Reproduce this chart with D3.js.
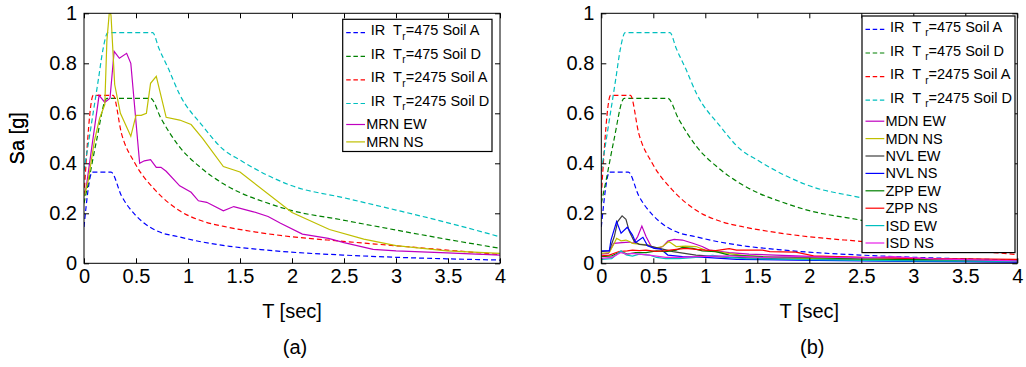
<!DOCTYPE html>
<html>
<head>
<meta charset="utf-8">
<script src="https://d3js.org/d3.v7.min.js"></script>
<style>
  body { margin: 0; background: #fff; }
  svg text { font-family: "Liberation Sans", Arial, Helvetica, sans-serif; fill: #000; }
  .frame { fill: none; stroke: #000; stroke-width: 1px; }
  .curve { fill: none; stroke-width: 1.2px; }
  .code { stroke-dasharray: 5,3; }
  .legend-box { fill: #fff; stroke: #000; stroke-width: 1.2px; }
</style>
</head>
<body>
<svg id="chart" width="1026" height="367"></svg>
<script>
// axis ticks
const periodTicks = [0, 0.5, 1, 1.5, 2, 2.5, 3, 3.5, 4];
const saTicks = [0, 0.2, 0.4, 0.6, 0.8, 1];

// IR design spectra [T, Sa]
const irA475 = [[0,0.145],[0.08,0.365],[0.26,0.365],[0.36,0.27],[0.49,0.195],[0.58,0.16],[0.71,0.128],[0.92,0.105],[1.14,0.085],[1.4,0.068],[1.7,0.055],[1.98,0.045],[2.49,0.033],[3.0,0.024],[3.49,0.018],[4.0,0.013]];
const irD475 = [[0,0.24],[0.05,0.34],[0.12,0.49],[0.22,0.66],[0.64,0.66],[0.74,0.58],[0.91,0.47],[1.13,0.38],[1.34,0.318],[1.5,0.283],[1.75,0.243],[1.98,0.213],[2.49,0.173],[3.0,0.133],[3.49,0.096],[4.0,0.06]];
const irA2475 = [[0,0.27],[0.09,0.672],[0.28,0.672],[0.36,0.52],[0.49,0.4],[0.68,0.295],[0.92,0.21],[1.13,0.17],[1.4,0.143],[1.7,0.122],[1.98,0.107],[2.49,0.088],[3.0,0.07],[3.49,0.053],[4.0,0.035]];
const irD2475 = [[0,0.37],[0.08,0.58],[0.14,0.74],[0.18,0.85],[0.23,0.923],[0.66,0.923],[0.72,0.86],[0.81,0.78],[0.92,0.675],[1.14,0.55],[1.34,0.455],[1.5,0.413],[1.75,0.355],[2.0,0.31],[2.5,0.262],[3.0,0.213],[3.5,0.162],[4.0,0.106]];

const codeCurves = [irA475, irD475, irA2475, irD2475];
const codeReturn = ["475", "475", "2475", "2475"];
const codeSoil = ["A", "D", "A", "D"];
const codeColors = ["#0000ff", "#008000", "#ff0000", "#00bfbf"];

// MRN station record (panel a)
const mrnEW = [[0,0.27],[0.02,0.3],[0.07,0.45],[0.145,0.672],[0.2,0.644],[0.25,0.66],[0.29,0.848],[0.34,0.82],[0.41,0.84],[0.45,0.80],[0.535,0.40],[0.58,0.41],[0.64,0.415],[0.695,0.384],[0.74,0.384],[0.79,0.368],[0.92,0.31],[1.03,0.284],[1.1,0.25],[1.18,0.244],[1.34,0.21],[1.44,0.227],[1.63,0.206],[1.77,0.187],[1.89,0.16],[2.1,0.117],[2.35,0.1],[2.5,0.083],[2.78,0.056],[3.0,0.05],[3.49,0.042],[4.0,0.033]];
const mrnNS = [[0,0.268],[0.04,0.33],[0.1,0.49],[0.15,0.58],[0.2,0.635],[0.22,0.89],[0.247,1.02],[0.26,0.99],[0.295,0.715],[0.35,0.6],[0.45,0.508],[0.5,0.592],[0.55,0.592],[0.6,0.6],[0.64,0.72],[0.695,0.748],[0.79,0.584],[0.92,0.573],[1.03,0.555],[1.14,0.5],[1.34,0.387],[1.5,0.365],[2.0,0.203],[2.36,0.135],[2.69,0.097],[3.0,0.071],[3.49,0.05],[4.0,0.04]];

const mrnCurves = [mrnEW, mrnNS];
const mrnNames = ["MRN EW", "MRN NS"];
const mrnColors = ["#bf00bf", "#bfbf00"];

// other stations (panel b)
const mdnEW = [[0,0.037],[0.07,0.04],[0.12,0.08],[0.2,0.083],[0.27,0.085],[0.31,0.08],[0.35,0.107],[0.39,0.149],[0.43,0.107],[0.48,0.067],[0.54,0.06],[0.59,0.067],[0.64,0.089],[0.7,0.096],[0.78,0.093],[0.88,0.08],[0.97,0.067],[1.04,0.053],[1.23,0.043],[1.42,0.037],[1.87,0.03],[2.2,0.025],[2.8,0.022],[3.2,0.014],[4.0,0.008]];
const mdnNS = [[0,0.04],[0.077,0.043],[0.125,0.08],[0.147,0.1],[0.19,0.09],[0.237,0.093],[0.27,0.087],[0.3,0.08],[0.365,0.077],[0.46,0.073],[0.51,0.06],[0.59,0.067],[0.65,0.087],[0.72,0.067],[0.81,0.069],[0.91,0.067],[1.0,0.053],[1.17,0.043],[1.39,0.03],[1.87,0.02],[2.5,0.015],[3.0,0.012],[4.0,0.008]];
const nvlEW = [[0,0.047],[0.077,0.05],[0.125,0.107],[0.157,0.167],[0.2,0.19],[0.237,0.176],[0.27,0.127],[0.317,0.087],[0.365,0.076],[0.43,0.073],[0.49,0.067],[0.56,0.06],[0.69,0.047],[0.91,0.033],[1.23,0.024],[1.87,0.016],[2.5,0.012],[3.0,0.01],[4.0,0.006]];
const nvlNS = [[0,0.05],[0.077,0.05],[0.093,0.093],[0.147,0.167],[0.19,0.12],[0.25,0.144],[0.3,0.113],[0.33,0.083],[0.4,0.104],[0.445,0.07],[0.51,0.06],[0.57,0.057],[0.64,0.033],[0.78,0.027],[1.0,0.024],[1.3,0.016],[1.87,0.013],[2.5,0.01],[3.0,0.008],[4.0,0.005]];
const zppEW = [[0,0.027],[0.1,0.03],[0.19,0.047],[0.25,0.037],[0.33,0.043],[0.43,0.043],[0.53,0.05],[0.62,0.047],[0.72,0.053],[0.78,0.064],[0.88,0.06],[0.97,0.05],[1.1,0.047],[1.23,0.033],[1.39,0.03],[1.55,0.027],[1.87,0.024],[2.5,0.018],[3.0,0.015],[4.0,0.012]];
const zppNS = [[0,0.03],[0.077,0.033],[0.17,0.047],[0.25,0.05],[0.3,0.053],[0.365,0.051],[0.43,0.053],[0.525,0.048],[0.62,0.051],[0.72,0.056],[0.81,0.06],[0.91,0.056],[1.0,0.053],[1.1,0.051],[1.23,0.059],[1.3,0.053],[1.55,0.053],[1.62,0.047],[1.87,0.045],[2.04,0.03],[2.5,0.024],[3.0,0.02],[3.5,0.018],[4.0,0.016]];
const isdEW = [[0,0.016],[0.1,0.019],[0.19,0.05],[0.24,0.033],[0.3,0.029],[0.365,0.037],[0.46,0.033],[0.53,0.024],[0.62,0.019],[0.75,0.019],[0.91,0.024],[1.07,0.032],[1.23,0.024],[1.39,0.019],[1.87,0.016],[2.5,0.012],[3.0,0.01],[4.0,0.008]];
const isdNS = [[0,0.02],[0.1,0.024],[0.19,0.043],[0.24,0.037],[0.3,0.04],[0.365,0.037],[0.46,0.033],[0.62,0.024],[0.78,0.024],[0.91,0.027],[1.23,0.03],[1.55,0.024],[1.87,0.027],[2.5,0.022],[2.8,0.027],[3.2,0.018],[4.0,0.01]];

const stationCurves = [mdnEW, mdnNS, nvlEW, nvlNS, zppEW, zppNS, isdEW, isdNS];
const stationNames = ["MDN EW", "MDN NS", "NVL EW", "NVL NS", "ZPP EW", "ZPP NS", "ISD EW", "ISD NS"];
const stationColors = ["#bf00bf", "#bfbf00", "#404040", "#0000ff", "#008000", "#ff0000", "#00bfbf", "#e81ee8"];

const svg = d3.select("#chart");
const plotW = 416, plotH = 250, plotTop = 13.3;

function drawPanel(left, id, panelLabel, records, legendBox, subGap) {
    const g = svg.append("g").attr("transform", "translate(" + left + "," + plotTop + ")");
    const x = d3.scaleLinear().domain([0, 4]).range([0, plotW]);
    const y = d3.scaleLinear().domain([0, 1]).range([plotH, 0]);

    g.append("clipPath").attr("id", "clip-" + id)
        .append("rect").attr("width", plotW).attr("height", plotH);

    const line = d3.line().x(d => x(d[0])).y(d => y(d[1]));
    const smooth = d3.line().x(d => x(d[0])).y(d => y(d[1])).curve(d3.curveMonotoneX);

    const plot = g.append("g").attr("clip-path", "url(#clip-" + id + ")");

    plot.selectAll("path.code").data(codeCurves).enter()
        .append("path")
        .attr("class", "curve code")
        .attr("stroke", (d, i) => codeColors[i])
        .attr("d", smooth);

    plot.selectAll("path.rec").data(records.curves).enter()
        .append("path")
        .attr("class", "curve rec")
        .attr("stroke", (d, i) => records.colors[i])
        .attr("d", line);

    // axes with inward ticks on all four sides
    const fmt = d => String(d);
    const styleAxis = a => {
        a.attr("font-family", null).attr("font-size", null);
        a.select(".domain").remove();
        a.selectAll("text").style("font-size", "20px");
    };
    g.append("g").attr("transform", "translate(0," + plotH + ")")
        .call(d3.axisBottom(x).tickValues(periodTicks).tickFormat(fmt).tickSizeInner(-5).tickSizeOuter(0).tickPadding(5.5))
        .call(styleAxis);
    g.append("g")
        .call(d3.axisLeft(y).tickValues(saTicks).tickFormat(fmt).tickSizeInner(-5).tickSizeOuter(0).tickPadding(7))
        .call(styleAxis);
    g.append("g")
        .call(d3.axisTop(x).tickValues(periodTicks).tickFormat("").tickSizeInner(-5).tickSizeOuter(0))
        .call(styleAxis);
    g.append("g").attr("transform", "translate(" + plotW + ",0)")
        .call(d3.axisRight(y).tickValues(saTicks).tickFormat("").tickSizeInner(-5).tickSizeOuter(0))
        .call(styleAxis);

    g.append("rect").attr("class", "frame").attr("width", plotW).attr("height", plotH);

    // axis titles
    g.append("text")
        .attr("transform", "translate(" + (24 - left) + "," + (plotH / 2) + ") rotate(-90)")
        .attr("text-anchor", "middle").style("font-size", "20px")
        .text("Sa [g]");
    g.append("text")
        .attr("x", plotW / 2).attr("y", 318.5 - plotTop)
        .attr("text-anchor", "middle").style("font-size", "20px")
        .text("T [sec]");
    g.append("text")
        .attr("x", plotW / 2 + 3).attr("y", 354 - plotTop)
        .attr("text-anchor", "middle").style("font-size", "20px")
        .text(panelLabel);

    // legend
    const lg = svg.append("g").attr("transform", "translate(" + legendBox.x + "," + legendBox.y + ")");
    const rows = [];
    let ry = 13.4;
    codeCurves.forEach((c, i) => { rows.push({ y: ry, dashed: true, color: codeColors[i], i: i }); ry += 23.6; });
    ry -= 2.6;
    records.names.forEach((n, i) => { rows.push({ y: ry, dashed: false, color: records.colors[i], name: n }); ry += 17.4; });
    lg.append("rect").attr("class", "legend-box")
        .attr("width", legendBox.w).attr("height", ry - 17.4 + 9.6);

    rows.forEach(r => {
        lg.append("line")
            .attr("x1", 3.5).attr("x2", 22.3).attr("y1", r.y).attr("y2", r.y)
            .attr("stroke", r.color).attr("stroke-width", 1.2)
            .attr("stroke-dasharray", r.dashed ? "4.5,2.7" : null);
        const t = lg.append("text").style("font-size", "14.5px").style("white-space", "pre");
        if (r.dashed) {
            t.attr("x", 28).attr("y", r.y + 2.5);
            t.append("tspan").text("IR  T");
            t.append("tspan").attr("dx", subGap).attr("dy", 4.5).style("font-size", "10px").text("r");
            t.append("tspan").attr("dy", -4.5).text("=" + codeReturn[r.i] + " Soil " + codeSoil[r.i]);
        } else {
            t.attr("x", 23.5).attr("y", r.y + 5).text(r.name);
        }
    });
}

drawPanel(84, "a", "(a)", { curves: mrnCurves, names: mrnNames, colors: mrnColors },
    { x: 342.7, y: 19.3, w: 149.3 }, 0.5);
drawPanel(601.3, "b", "(b)", { curves: stationCurves, names: stationNames, colors: stationColors },
    { x: 862, y: 16, w: 153 }, 4);
</script>
</body>
</html>
